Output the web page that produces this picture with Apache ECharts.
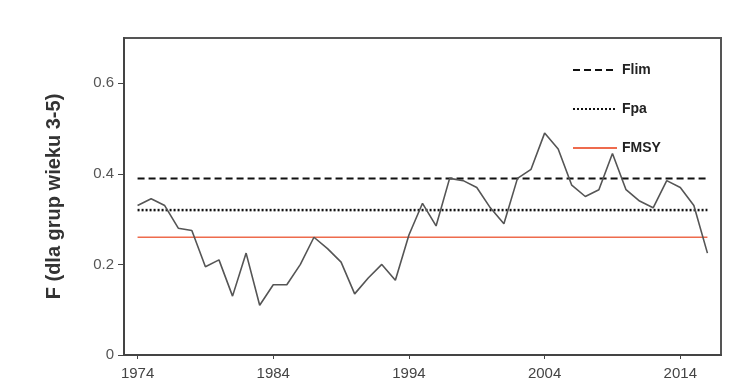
<!DOCTYPE html>
<html>
<head>
<meta charset="utf-8">
<script src="https://cdn.jsdelivr.net/npm/echarts@6/dist/echarts.min.js"></script>
<style>
    html, body { margin: 0; padding: 0; background: #fff; }
    #chart { width: 749px; height: 389px; }
</style>
</head>
<body>
<div id="chart"></div>
<script>
// dane: śmiertelność połowowa F (grupy wieku 3-5)
const years = [1974, 1975, 1976, 1977, 1978, 1979, 1980, 1981, 1982, 1983,
    1984, 1985, 1986, 1987, 1988, 1989, 1990, 1991, 1992, 1993,
    1994, 1995, 1996, 1997, 1998, 1999, 2000, 2001, 2002, 2003,
    2004, 2005, 2006, 2007, 2008, 2009, 2010, 2011, 2012, 2013,
    2014, 2015, 2016];
const fValues = [0.33, 0.345, 0.33, 0.28, 0.275, 0.195, 0.21, 0.13, 0.225, 0.11,
    0.155, 0.155, 0.2, 0.26, 0.235, 0.205, 0.135, 0.17, 0.2, 0.165,
    0.265, 0.335, 0.285, 0.39, 0.385, 0.37, 0.325, 0.29, 0.39, 0.41,
    0.49, 0.455, 0.375, 0.35, 0.365, 0.445, 0.365, 0.34, 0.325, 0.385,
    0.37, 0.33, 0.225];
const refNames = ["Flim", "Fpa", "FMSY"];
const refValues = [0.39, 0.32, 0.26];
const xTicks = [1974, 1984, 1994, 2004, 2014];
const yTicks = [0, 0.2, 0.4, 0.6];

(function () {
    const my_echart = echarts.init(document.getElementById("chart"));
    const font = "Liberation Sans Narrow, Liberation Sans, Arial, sans-serif";
    const first = years[0], last = years[years.length - 1];
    // style linii referencyjnych
    const refStyles = [
        { color: "#111", width: 2, type: [7, 4] },
        { color: "#111", width: 2.5, type: [2, 2] },
        { color: "#ee6b4d", width: 1.5, type: "solid" }
    ];
    const refSeries = refNames.map(function (name, i) {
        return {
            name: name,
            type: "line",
            symbol: "none",
            silent: true,
            lineStyle: refStyles[i],
            itemStyle: { color: refStyles[i].color },
            data: [[first, refValues[i]], [last, refValues[i]]],
            z: 2
        };
    });
    let option = {
        animation: false,
        grid: {
            left: 124, right: 28, top: 38, bottom: 34,
            show: true,
            borderColor: "#555",
            borderWidth: 2
        },
        legend: {
            data: refNames,
            orient: "vertical",
            left: 567,
            top: 58,
            itemWidth: 44,
            itemHeight: 12,
            itemGap: 25,
            itemStyle: { opacity: 0 },
            textStyle: { fontFamily: font, fontSize: 14, fontWeight: "bold", color: "#222" }
        },
        xAxis: {
            type: "value",
            min: 1973,
            max: 2017,
            splitLine: { show: false },
            axisLine: { lineStyle: { color: "#444", width: 2 } },
            axisTick: { customValues: xTicks, length: 4, lineStyle: { color: "#444" } },
            axisLabel: {
                customValues: xTicks, margin: 11, fontFamily: font, fontSize: 15, color: "#444",
                formatter: function (v) { return String(v); }
            }
        },
        yAxis: {
            type: "value",
            min: 0,
            max: 0.7,
            name: "F (dla grup wieku 3-5)",
            nameLocation: "middle",
            nameGap: 60,
            nameTextStyle: { fontFamily: "Liberation Sans, Arial, sans-serif", fontSize: 20, fontWeight: "bold", color: "#333" },
            splitLine: { show: false },
            axisLine: { show: true, lineStyle: { color: "#444", width: 2 } },
            axisTick: { show: true, customValues: yTicks, length: 6, lineStyle: { color: "#444" } },
            axisLabel: { customValues: yTicks, margin: 10, fontFamily: font, fontSize: 15, color: "#555" }
        },
        series: refSeries.concat([{
            name: "F",
            type: "line",
            symbol: "none",
            lineStyle: { color: "#555", width: 1.6 },
            data: years.map(function (y, i) { return [y, fValues[i]]; }),
            z: 3
        }])
    };
    my_echart.setOption(option);
})();
</script>
</body>
</html>
